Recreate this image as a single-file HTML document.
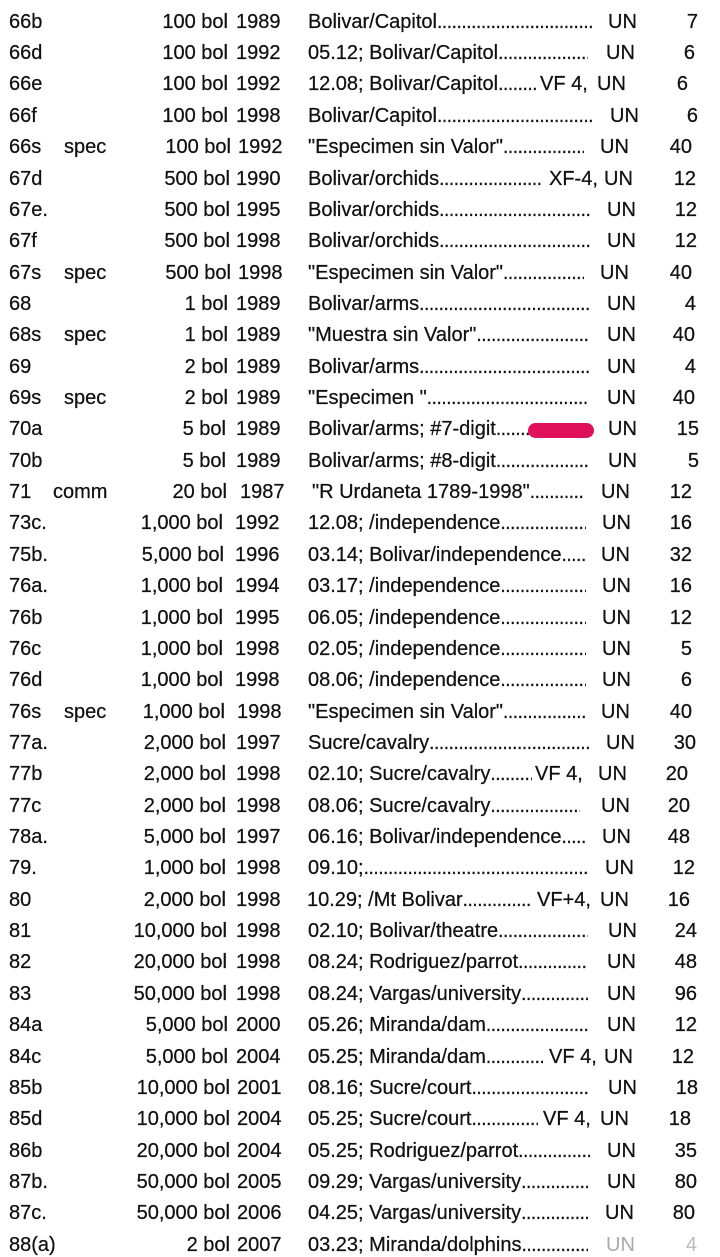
<!DOCTYPE html>
<html><head><meta charset="utf-8">
<style>
html,body{margin:0;padding:0;background:#fff;}
body{width:720px;height:1254px;position:relative;overflow:hidden;font-family:"Liberation Sans",Arial,sans-serif;color:#111;}
.r{position:absolute;left:0;width:720px;height:20px;font-size:20px;line-height:20px;-webkit-text-stroke:0.25px #111;}
.r span{position:absolute;top:0;white-space:nowrap;}
.c{left:9px;}
.s{left:64px;}
.d{right:492px;}
.y{left:236px;}
.t{left:308px;overflow:hidden;height:22px;}
.t::after{content:"............................................................................................";font-size:19px;letter-spacing:-0.4px;}
.u{left:606px;}
.v{right:24px;}
.pill{position:absolute;left:528px;top:423px;width:66px;height:15px;border-radius:8px;background:#e0115a;}
</style></head><body>

<div class="r" style="top:11.7px"><span class="c">66b</span><span class="d">100 bol</span><span class="y">1989</span><span class="t" style="width:284px">Bolivar/Capitol</span><span class="u" style="left:608px">UN</span><span class="v" style="right:22px">7</span></div>
<div class="r" style="top:43.1px"><span class="c">66d</span><span class="d">100 bol</span><span class="y">1992</span><span class="t" style="width:280px">05.12; Bolivar/Capitol</span><span class="u" style="left:606px">UN</span><span class="v" style="right:25px">6</span></div>
<div class="r" style="top:74.4px"><span class="c">66e</span><span class="d">100 bol</span><span class="y">1992</span><span class="t" style="width:228px">12.08; Bolivar/Capitol</span><span style="left:540px">VF 4,</span><span class="u" style="left:597px">UN</span><span class="v" style="right:32px">6</span></div>
<div class="r" style="top:105.8px"><span class="c">66f</span><span class="d">100 bol</span><span class="y">1998</span><span class="t" style="width:284px">Bolivar/Capitol</span><span class="u" style="left:610px">UN</span><span class="v" style="right:22px">6</span></div>
<div class="r" style="top:137.1px"><span class="c">66s</span><span class="s">spec</span><span class="d" style="right:489px">100 bol</span><span class="y" style="left:238px">1992</span><span class="t" style="width:276px">"Especimen sin Valor"</span><span class="u" style="left:600px">UN</span><span class="v" style="right:28px">40</span></div>
<div class="r" style="top:168.5px"><span class="c">67d</span><span class="d" style="right:490px">500 bol</span><span class="y">1990</span><span class="t" style="width:235px">Bolivar/orchids</span><span style="left:549px">XF-4,</span><span class="u" style="left:604px">UN</span><span class="v" style="right:24px">12</span></div>
<div class="r" style="top:199.9px"><span class="c">67e.</span><span class="d" style="right:490px">500 bol</span><span class="y">1995</span><span class="t" style="width:282px">Bolivar/orchids</span><span class="u" style="left:607px">UN</span><span class="v" style="right:23px">12</span></div>
<div class="r" style="top:231.2px"><span class="c">67f</span><span class="d" style="right:490px">500 bol</span><span class="y">1998</span><span class="t" style="width:282px">Bolivar/orchids</span><span class="u" style="left:607px">UN</span><span class="v" style="right:23px">12</span></div>
<div class="r" style="top:262.6px"><span class="c">67s</span><span class="s">spec</span><span class="d" style="right:489px">500 bol</span><span class="y" style="left:238px">1998</span><span class="t" style="width:276px">"Especimen sin Valor"</span><span class="u" style="left:600px">UN</span><span class="v" style="right:28px">40</span></div>
<div class="r" style="top:293.9px"><span class="c">68</span><span class="d">1 bol</span><span class="y">1989</span><span class="t" style="width:282px">Bolivar/arms</span><span class="u" style="left:607px">UN</span><span class="v" style="right:24px">4</span></div>
<div class="r" style="top:325.3px"><span class="c">68s</span><span class="s">spec</span><span class="d">1 bol</span><span class="y">1989</span><span class="t" style="width:280px">"Muestra sin Valor"</span><span class="u" style="left:607px">UN</span><span class="v" style="right:25px">40</span></div>
<div class="r" style="top:356.6px"><span class="c">69</span><span class="d">2 bol</span><span class="y">1989</span><span class="t" style="width:282px">Bolivar/arms</span><span class="u" style="left:607px">UN</span><span class="v" style="right:24px">4</span></div>
<div class="r" style="top:388.0px"><span class="c">69s</span><span class="s">spec</span><span class="d">2 bol</span><span class="y">1989</span><span class="t" style="width:280px">"Especimen "</span><span class="u" style="left:607px">UN</span><span class="v" style="right:25px">40</span></div>
<div class="r" style="top:419.4px"><span class="c">70a</span><span class="d" style="right:494px">5 bol</span><span class="y">1989</span><span class="t" style="width:282px">Bolivar/arms; #7-digit</span><span class="u" style="left:608px">UN</span><span class="v" style="right:21px">15</span></div>
<div class="r" style="top:450.7px"><span class="c">70b</span><span class="d" style="right:494px">5 bol</span><span class="y">1989</span><span class="t" style="width:282px">Bolivar/arms; #8-digit</span><span class="u" style="left:608px">UN</span><span class="v" style="right:21px">5</span></div>
<div class="r" style="top:482.1px"><span class="c">71</span><span style="left:53px">comm</span><span class="d" style="right:493px">20 bol</span><span class="y" style="left:240px">1987</span><span class="t" style="left:312px;width:271px">"R Urdaneta 1789-1998"</span><span class="u" style="left:601px">UN</span><span class="v" style="right:28px">12</span></div>
<div class="r" style="top:513.4px"><span class="c">73c.</span><span class="d" style="right:497px">1,000 bol</span><span class="y" style="left:235px">1992</span><span class="t" style="width:278px">12.08; /independence</span><span class="u" style="left:602px">UN</span><span class="v" style="right:28px">16</span></div>
<div class="r" style="top:544.8px"><span class="c">75b.</span><span class="d" style="right:496px">5,000 bol</span><span class="y" style="left:235px">1996</span><span class="t" style="width:278px">03.14; Bolivar/independence</span><span class="u" style="left:601px">UN</span><span class="v" style="right:28px">32</span></div>
<div class="r" style="top:576.1px"><span class="c">76a.</span><span class="d" style="right:497px">1,000 bol</span><span class="y" style="left:235px">1994</span><span class="t" style="width:278px">03.17; /independence</span><span class="u" style="left:602px">UN</span><span class="v" style="right:28px">16</span></div>
<div class="r" style="top:607.5px"><span class="c">76b</span><span class="d" style="right:497px">1,000 bol</span><span class="y" style="left:235px">1995</span><span class="t" style="width:278px">06.05; /independence</span><span class="u" style="left:602px">UN</span><span class="v" style="right:28px">12</span></div>
<div class="r" style="top:638.9px"><span class="c">76c</span><span class="d" style="right:497px">1,000 bol</span><span class="y" style="left:235px">1998</span><span class="t" style="width:278px">02.05; /independence</span><span class="u" style="left:602px">UN</span><span class="v" style="right:28px">5</span></div>
<div class="r" style="top:670.2px"><span class="c">76d</span><span class="d" style="right:497px">1,000 bol</span><span class="y" style="left:235px">1998</span><span class="t" style="width:278px">08.06; /independence</span><span class="u" style="left:602px">UN</span><span class="v" style="right:28px">6</span></div>
<div class="r" style="top:701.6px"><span class="c">76s</span><span class="s">spec</span><span class="d" style="right:495px">1,000 bol</span><span class="y" style="left:237px">1998</span><span class="t" style="width:278px">"Especimen sin Valor"</span><span class="u" style="left:601px">UN</span><span class="v" style="right:28px">40</span></div>
<div class="r" style="top:732.9px"><span class="c">77a.</span><span class="d" style="right:494px">2,000 bol</span><span class="y">1997</span><span class="t" style="width:282px">Sucre/cavalry</span><span class="u" style="left:606px">UN</span><span class="v" style="right:24px">30</span></div>
<div class="r" style="top:764.3px"><span class="c">77b</span><span class="d" style="right:494px">2,000 bol</span><span class="y">1998</span><span class="t" style="width:224px">02.10; Sucre/cavalry</span><span style="left:535px">VF 4,</span><span class="u" style="left:598px">UN</span><span class="v" style="right:32px">20</span></div>
<div class="r" style="top:795.6px"><span class="c">77c</span><span class="d" style="right:494px">2,000 bol</span><span class="y">1998</span><span class="t" style="width:272px">08.06; Sucre/cavalry</span><span class="u" style="left:601px">UN</span><span class="v" style="right:30px">20</span></div>
<div class="r" style="top:827.0px"><span class="c">78a.</span><span class="d" style="right:494px">5,000 bol</span><span class="y">1997</span><span class="t" style="width:278px">06.16; Bolivar/independence</span><span class="u" style="left:602px">UN</span><span class="v" style="right:30px">48</span></div>
<div class="r" style="top:858.4px"><span class="c">79.</span><span class="d" style="right:494px">1,000 bol</span><span class="y">1998</span><span class="t" style="width:280px">09.10;</span><span class="u" style="left:605px">UN</span><span class="v" style="right:25px">12</span></div>
<div class="r" style="top:889.7px"><span class="c">80</span><span class="d" style="right:494px">2,000 bol</span><span class="y">1998</span><span class="t" style="left:307px;width:225px">10.29; /Mt Bolivar</span><span style="left:537px">VF+4,</span><span class="u" style="left:600px">UN</span><span class="v" style="right:30px">16</span></div>
<div class="r" style="top:921.1px"><span class="c">81</span><span class="d" style="right:493px">10,000 bol</span><span class="y">1998</span><span class="t" style="width:280px">02.10; Bolivar/theatre</span><span class="u" style="left:608px">UN</span><span class="v" style="right:23px">24</span></div>
<div class="r" style="top:952.4px"><span class="c">82</span><span class="d" style="right:493px">20,000 bol</span><span class="y">1998</span><span class="t" style="width:280px">08.24; Rodriguez/parrot</span><span class="u" style="left:607px">UN</span><span class="v" style="right:23px">48</span></div>
<div class="r" style="top:983.8px"><span class="c">83</span><span class="d" style="right:493px">50,000 bol</span><span class="y">1998</span><span class="t" style="width:280px">08.24; Vargas/university</span><span class="u" style="left:607px">UN</span><span class="v" style="right:23px">96</span></div>
<div class="r" style="top:1015.1px"><span class="c">84a</span><span class="d" style="right:492px">5,000 bol</span><span class="y">2000</span><span class="t" style="width:280px">05.26; Miranda/dam</span><span class="u" style="left:607px">UN</span><span class="v" style="right:23px">12</span></div>
<div class="r" style="top:1046.5px"><span class="c">84c</span><span class="d" style="right:492px">5,000 bol</span><span class="y">2004</span><span class="t" style="width:235px">05.25; Miranda/dam</span><span style="left:549px">VF 4,</span><span class="u" style="left:604px">UN</span><span class="v" style="right:26px">12</span></div>
<div class="r" style="top:1077.9px"><span class="c">85b</span><span class="d" style="right:490px">10,000 bol</span><span class="y" style="left:237px">2001</span><span class="t" style="width:282px">08.16; Sucre/court</span><span class="u" style="left:608px">UN</span><span class="v" style="right:22px">18</span></div>
<div class="r" style="top:1109.2px"><span class="c">85d</span><span class="d" style="right:490px">10,000 bol</span><span class="y" style="left:237px">2004</span><span class="t" style="width:230px">05.25; Sucre/court</span><span style="left:543px">VF 4,</span><span class="u" style="left:600px">UN</span><span class="v" style="right:29px">18</span></div>
<div class="r" style="top:1140.6px"><span class="c">86b</span><span class="d" style="right:490px">20,000 bol</span><span class="y" style="left:237px">2004</span><span class="t" style="width:282px">05.25; Rodriguez/parrot</span><span class="u" style="left:607px">UN</span><span class="v" style="right:23px">35</span></div>
<div class="r" style="top:1171.9px"><span class="c">87b.</span><span class="d" style="right:490px">50,000 bol</span><span class="y" style="left:237px">2005</span><span class="t" style="width:280px">09.29; Vargas/university</span><span class="u" style="left:607px">UN</span><span class="v" style="right:23px">80</span></div>
<div class="r" style="top:1203.3px"><span class="c">87c.</span><span class="d" style="right:490px">50,000 bol</span><span class="y" style="left:237px">2006</span><span class="t" style="width:280px">04.25; Vargas/university</span><span class="u" style="left:605px">UN</span><span class="v" style="right:25px">80</span></div>
<div class="r" style="top:1234.6px"><span class="c">88(a)</span><span class="d" style="right:490px">2 bol</span><span class="y" style="left:237px">2007</span><span class="t" style="width:280px">03.23; Miranda/dolphins</span><span class="u" style="left:606px;color:#aaa;-webkit-text-stroke:0">UN</span><span class="v" style="right:23px;color:#bbb;-webkit-text-stroke:0">4</span></div>

<div class="pill"></div>
</body></html>
